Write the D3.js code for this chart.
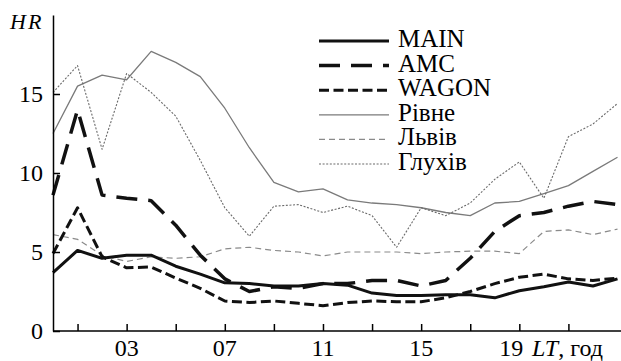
<!DOCTYPE html>
<html>
<head>
<meta charset="utf-8">
<script src="https://cdn.jsdelivr.net/npm/d3@7"></script>
</head>
<body style="margin:0; background:#fff">
<script>
var W = 621, H = 361;
var FONT = "'Liberation Serif', monospace";

// hours LT
var hours = [0, 1, 2, 3, 4, 5, 6, 7, 8, 9, 10, 11, 12, 13, 14, 15, 16, 17, 18, 19, 20, 21, 22, 23];
var tickHours = [1, 3, 5, 7, 9, 11, 13, 15, 17, 19, 21];
var labelHours = [3, 7, 11, 15, 19];
var yTicks = [0, 5, 10, 15];

// HR values
var main    = [3.7, 5.1, 4.6, 4.8, 4.8, 4.1, 3.6, 3.05, 3.0, 2.85, 2.85, 3.0, 2.9, 2.4, 2.25, 2.25, 2.3, 2.3, 2.1, 2.55, 2.8, 3.1, 2.85, 3.3];
var amc     = [8.6, 14.0, 8.6, 8.4, 8.25, 6.7, 4.8, 3.3, 2.5, 2.8, 2.7, 3.0, 3.0, 3.2, 3.2, 2.85, 3.2, 4.6, 6.3, 7.3, 7.5, 7.9, 8.2, 8.0];
var wagon   = [4.9, 7.8, 4.7, 4.0, 4.05, 3.35, 2.7, 1.9, 1.8, 1.9, 1.75, 1.6, 1.8, 1.9, 1.85, 1.85, 2.1, 2.5, 3.0, 3.4, 3.6, 3.3, 3.2, 3.35];
var rivne   = [12.5, 15.5, 16.2, 15.9, 17.7, 17.0, 16.1, 14.1, 11.6, 9.4, 8.8, 9.0, 8.3, 8.1, 8.0, 7.8, 7.5, 7.3, 8.1, 8.2, 8.7, 9.2, 10.1, 11.0];
var lviv    = [6.1, 5.8, 4.8, 4.4, 4.7, 4.6, 4.7, 5.2, 5.3, 5.1, 5.0, 4.75, 5.0, 5.0, 5.0, 4.9, 5.0, 5.05, 5.05, 4.9, 6.3, 6.4, 6.1, 6.45];
var hlukhiv = [15.1, 16.8, 11.5, 16.3, 15.1, 13.6, 10.8, 7.8, 6.0, 7.9, 8.0, 7.5, 7.9, 7.3, 5.3, 7.8, 7.3, 8.1, 9.6, 10.7, 8.4, 12.3, 13.1, 14.4];

var seriesNames = ["MAIN", "AMC", "WAGON", "Рівне", "Львів", "Глухів"];

// line styles (legend order)
var styles = [
  {color: "#111", width: 3,   dash: null},
  {color: "#111", width: 3.5, dash: "21,11"},
  {color: "#111", width: 3,   dash: "10,4.5"},
  {color: "#7a7a7a", width: 1.3, dash: null},
  {color: "#8a8a8a", width: 1.2, dash: "6,4"},
  {color: "#6a6a6a", width: 1.1, dash: "2,1.6"}
];
var values = [main, amc, wagon, rivne, lviv, hlukhiv];

var x = d3.scaleLinear().domain([0, 23]).range([53, 617.5]);
var y = d3.scaleLinear().domain([0, 20]).range([331, 15]);

var svg = d3.select("body").append("svg")
    .attr("width", W)
    .attr("height", H)
    .style("font-family", FONT);

var line = d3.line()
    .x(function(d, i) { return x(hours[i]); })
    .y(function(d) { return y(d); });

// grey lines first, black on top
var drawOrder = [3, 4, 5, 2, 1, 0];
drawOrder.forEach(function(k) {
  svg.append("path")
    .datum(values[k])
    .attr("fill", "none")
    .attr("stroke", styles[k].color)
    .attr("stroke-width", styles[k].width)
    .attr("stroke-dasharray", styles[k].dash)
    .attr("stroke-linejoin", "round")
    .attr("d", line);
});

// y axis
var yAxis = svg.append("g")
  .attr("transform", "translate(53,0)")
  .call(d3.axisLeft(y).tickValues(yTicks).tickSizeInner(-7).tickSizeOuter(0).tickPadding(10));
yAxis.attr("font-family", null).attr("font-size", null);
yAxis.select(".domain").attr("stroke", "#000").attr("stroke-width", 1.5);
yAxis.selectAll(".tick line").attr("stroke", "#000").attr("stroke-width", 1.5);
yAxis.selectAll("text")
  .style("font-size", "24px")
  .style("font-family", FONT)
  .attr("fill", "#000");

// x axis
var xAxis = svg.append("g")
  .attr("transform", "translate(0,331)")
  .call(d3.axisBottom(x).tickValues(tickHours).tickSizeInner(-7).tickSizeOuter(0).tickFormat(""));
xAxis.select(".domain").attr("d", "M53,0H621").attr("stroke", "#000").attr("stroke-width", 1.5);
xAxis.selectAll(".tick line").attr("stroke", "#000").attr("stroke-width", 1.5);

svg.selectAll(".xlab")
  .data(labelHours)
  .enter().append("text")
  .attr("class", "xlab")
  .attr("x", function(d) { return x(d) - (d === 19 ? 8 : 0); })
  .attr("y", 356)
  .attr("text-anchor", "middle")
  .style("font-size", "24px")
  .style("font-family", FONT)
  .text(function(d) { return d < 10 ? "0" + d : "" + d; });

var unit = svg.append("text")
  .attr("x", 532)
  .attr("y", 356)
  .style("font-size", "24px")
  .style("font-family", FONT);
unit.append("tspan").style("font-style", "italic").text("LT");
unit.append("tspan").text(", год");

svg.append("text")
  .attr("x", 10)
  .attr("y", 29)
  .style("font-size", "22px")
  .style("font-style", "italic")
  .style("letter-spacing", "2px")
  .style("font-family", FONT)
  .text("HR");

// legend
var legend = svg.append("g");
seriesNames.forEach(function(name, i) {
  var by = 47 + i * 24.6;
  legend.append("line")
    .attr("x1", 319).attr("x2", 389)
    .attr("y1", by - 6).attr("y2", by - 6)
    .attr("stroke", styles[i].color)
    .attr("stroke-width", styles[i].width)
    .attr("stroke-dasharray", styles[i].dash);
  legend.append("text")
    .attr("x", 398)
    .attr("y", by)
    .style("font-size", "25px")
    .style("font-family", FONT)
    .text(name);
});
</script>
</body>
</html>
